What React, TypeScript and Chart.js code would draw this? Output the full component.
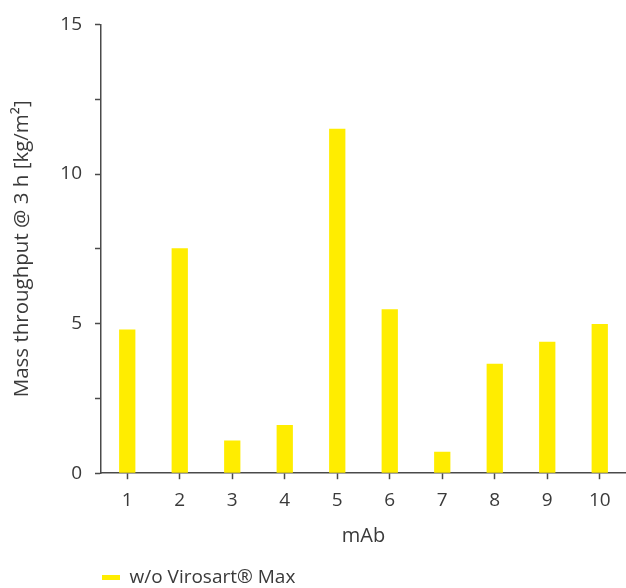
import React, { useEffect, useRef } from "react";
import { Chart, registerables } from "chart.js";

Chart.register(...registerables);

const categories = ["1", "2", "3", "4", "5", "6", "7", "8", "9", "10"];
const seriesName = "w/o Virosart® Max";
const throughput = [4.8, 7.52, 1.09, 1.61, 11.51, 5.48, 0.72, 3.66, 4.39, 4.99];
const yLabelValues = [0, 5, 10, 15];

const TEXT = "#3a3a3a";
const AXIS = "#4a4a4a";
const FONT = "'Open Sans', 'Noto Sans', sans-serif";

export default function App() {
  const ref = useRef<HTMLCanvasElement | null>(null);

  useEffect(() => {
    if (!ref.current) return;
    const chart = new Chart(ref.current, {
      type: "bar",
      data: {
        labels: categories,
        datasets: [
          {
            label: seriesName,
            data: throughput,
            backgroundColor: "#FFED00",
            borderWidth: 0,
            barPercentage: 0.31,
            categoryPercentage: 1,
          },
        ],
      },
      options: {
        animation: false,
        responsive: true,
        maintainAspectRatio: false,
        layout: { padding: { left: 0, right: 0, top: 12, bottom: -9 } },
        plugins: {
          tooltip: { enabled: false },
          legend: {
            position: "bottom",
            align: "start",
            fullSize: false,
            labels: {
              boxWidth: 18,
              boxHeight: 5,
              padding: 1,
              color: TEXT,
              font: { family: FONT, size: 19 },
            },
          },
        },
        scales: {
          x: {
            offset: true,
            grid: {
              offset: false,
              drawOnChartArea: false,
              drawTicks: true,
              tickLength: 6,
              tickColor: AXIS,
              tickWidth: 1.5,
            },
            border: { color: AXIS, width: 1.5 },
            ticks: {
              color: TEXT,
              font: { family: FONT, size: 19 },
              padding: 10,
              maxRotation: 0,
            },
            title: {
              display: true,
              text: "mAb",
              color: TEXT,
              font: { family: FONT, size: 20 },
              padding: { top: 2, bottom: 19 },
            },
          },
          y: {
            min: 0,
            max: 15,
            afterFit: (axis: any) => {
              axis.width = 101;
            },
            grid: {
              drawOnChartArea: false,
              drawTicks: true,
              tickLength: 6,
              tickColor: AXIS,
              tickWidth: 1.5,
            },
            border: { color: AXIS, width: 1.5 },
            ticks: {
              stepSize: 2.5,
              color: TEXT,
              font: { family: FONT, size: 19 },
              padding: 13,
              callback: (v: any) => (yLabelValues.includes(Number(v)) ? String(v) : ""),
            },
            title: {
              display: true,
              text: "Mass throughput @ 3 h [kg/m²]",
              color: TEXT,
              font: { family: FONT, size: 20.5 },
              padding: { top: 10, bottom: 0 },
            },
          },
        },
      },
    });
    return () => chart.destroy();
  }, []);

  return (
    <div style={{ position: "absolute", left: 0, top: 0, width: 626, height: 588, background: "#fff" }}>
      <canvas ref={ref} />
    </div>
  );
}
